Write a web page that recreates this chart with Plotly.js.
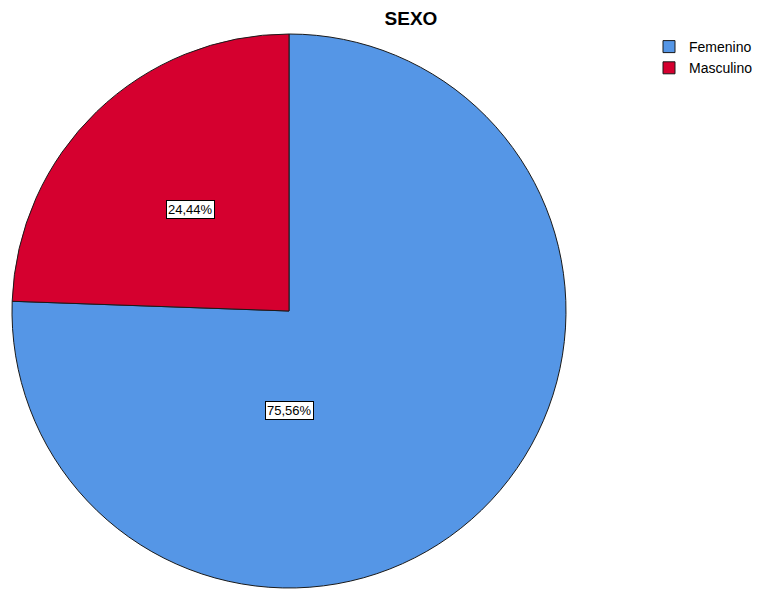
<!DOCTYPE html>
<html>
<head>
<meta charset="utf-8">
<script src="https://cdn.plot.ly/plotly-3.0.1.min.js"></script>
<style>html,body{margin:0;padding:0;background:#fff;}#chart{width:764px;height:592px;}</style>
</head>
<body>
<div id="chart"></div>
<script>
var categories = ["Femenino", "Masculino"];
var percents = [75.56, 24.44];
var colors = ["#5596E6", "#D5002F"];
var percentLabels = ["75,56%", "24,44%"];

var W = 764, H = 592;
var cx = 289, cy = 311, R = 277;

var total = percents.reduce(function(a,b){return a+b;},0);
var annotations = [];
var start = 0;
var labelAngles = [];
percents.forEach(function(v, i){
  var mid = start + v/2;
  labelAngles.push(mid/total*360);
  start += v;
});
var labelPos = [
  {ang: 180, r: 0.36},
  {ang: labelAngles[1], r: 0.51}
];
labelPos.forEach(function(p, i){
  var a = p.ang*Math.PI/180;
  var px = cx + Math.sin(a)*R*p.r;
  var py = cy - Math.cos(a)*R*p.r;
  annotations.push({
    x: px/W, y: 1-py/H, xref:'paper', yref:'paper', xanchor:'center', yanchor:'middle', showarrow:false,
    text: percentLabels[i], bgcolor:'#ffffff', bordercolor:'#000000', borderwidth:1, borderpad:1,
    font:{family:'Liberation Sans, Arial, sans-serif', size:13, color:'#000'}
  });
});

var data = [{
  type: 'pie',
  labels: categories,
  values: percents,
  sort: false,
  direction: 'clockwise',
  rotation: 0,
  textinfo: 'none',
  hoverinfo: 'label+percent',
  marker: {colors: colors, line: {color: '#1a1a1a', width: 1}},
  domain: {x: [(cx-R)/W, (cx+R)/W], y: [1-(cy+R)/H, 1-(cy-R)/H]}
}];

var layout = {
  width: W, height: H,
  margin: {l:0, r:0, t:0, b:0, autoexpand:false},
  paper_bgcolor: '#fff',
  title: {text: '<b>SEXO</b>', x: 411/W, xanchor: 'center', y: 1-18/H, yanchor: 'middle',
          font: {family:'Liberation Sans, Arial, sans-serif', size: 19, color:'#000'}},
  showlegend: true,
  legend: {x: 649/W, y: 1-31/H, xanchor:'left', yanchor:'top', bgcolor:'rgba(0,0,0,0)',
           font: {family:'Liberation Sans, Arial, sans-serif', size: 14, color:'#000'},
           tracegroupgap: 0, itemwidth: 30},
  annotations: annotations
};

Plotly.newPlot('chart', data, layout, {displayModeBar: false, staticPlot: true});
</script>
</body>
</html>
